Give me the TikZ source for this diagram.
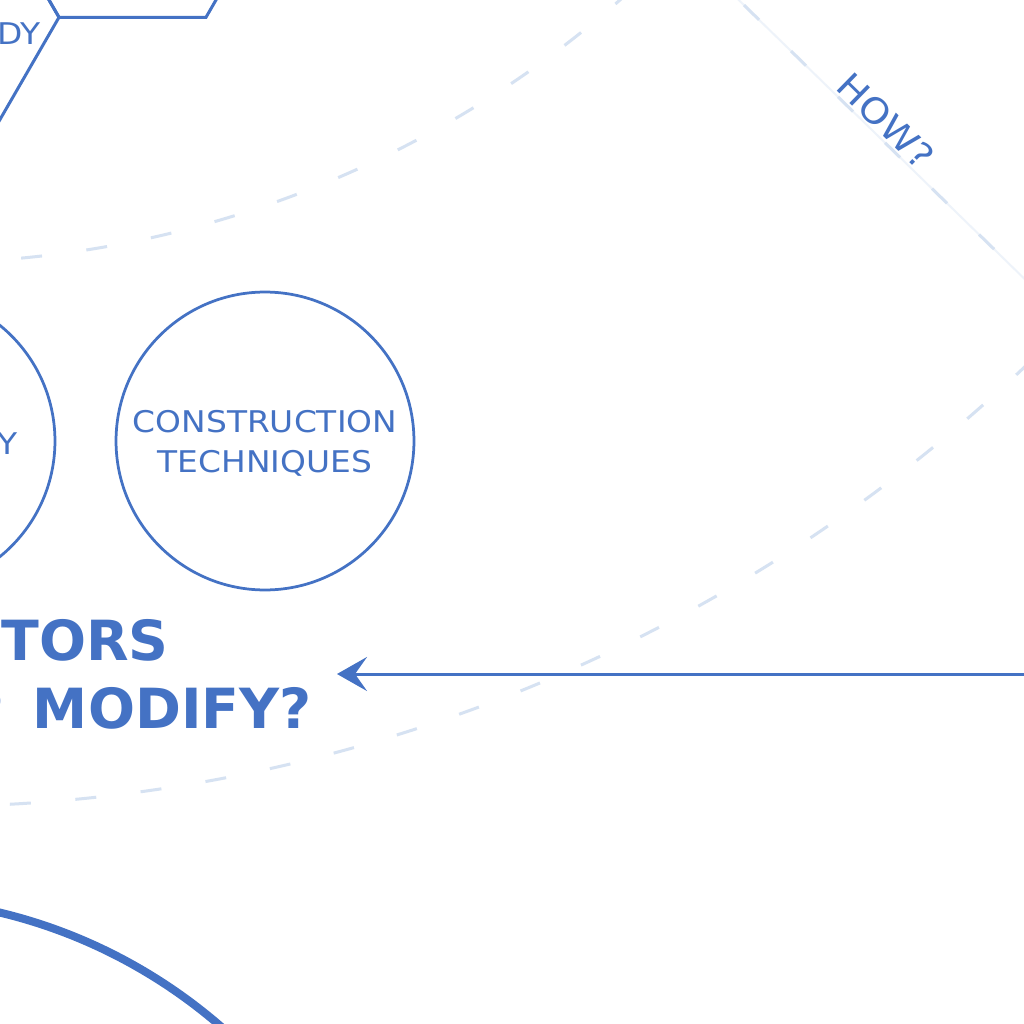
\documentclass[tikz,border=0pt]{standalone}
\usepackage{fontspec}
\setmainfont{DejaVu Sans}
\newfontfamily\handfont{DejaVu Sans}[FakeStretch=1.1]
\newfontfamily\bigfont{DejaVu Sans}
\usetikzlibrary{arrows.meta}
\definecolor{mainblue}{HTML}{4472C4}
\definecolor{ringblue}{HTML}{D6E2F2}
\definecolor{faintblue}{HTML}{EEF3FA}
\tikzset{
  ring/.style={draw=ringblue, line width=0.06cm, dash pattern=on 0.42cm off 0.894cm},
  hexedge/.style={draw=mainblue, line width=0.06cm, line join=miter},
  circnode/.style={circle, draw=mainblue, line width=0.055cm, minimum size=5.96cm, inner sep=0pt,
    text=mainblue, font=\handfont\fontsize{17}{22.8}\selectfont, align=center},
  lbl/.style={text=mainblue, inner sep=0pt, font=\handfont\fontsize{17}{22.8}\selectfont},
  howlbl/.style={text=mainblue, inner sep=0pt, font=\handfont\fontsize{20}{24}\selectfont},
  bigtxt/.style={text=mainblue, inner sep=0pt, font=\bigfont\bfseries\fontsize{31.5}{37}\selectfont},
  conn/.style={draw=mainblue, line width=0.06cm, -{Stealth[length=0.6cm,width=0.68cm,inset=0.24cm]}},
  hub/.style={draw=mainblue, line width=0.16cm},
  faint/.style={draw=faintblue, line width=0.04cm},
}
\begin{document}
\begin{tikzpicture}[x=0.02cm,y=-0.02cm]
\useasboundingbox (0,0) rectangle (1024,1024);
\clip (0,0) rectangle (1024,1024);
\fill[white] (0,0) rectangle (1024,1024);
% concentric dashed rings
\coordinate (ctr) at (-79,-798);
\draw[ring, dash phase=0.474cm] (ctr) circle[radius=21.22cm];
\draw[ring, dash phase=0.67cm] (ctr) circle[radius=32.1cm];
% radial HOW? line
\path (ctr) ++(44.3:1100) coordinate (howA0);
\path (ctr) ++(44.3:1150) coordinate (howA);
\path (ctr) ++(44.3:1605) coordinate (howB);
\draw[faint] (howA0) -- (howB);
\draw[ring] (howA) -- (howB);
\node[howlbl, rotate=-44.3] (how) at (886,121) {HOW?};
% hexagons
\draw[hexedge] (279.5,-110) -- (206,17.3) -- (59,17.3) -- (-14.5,-110) -- (59,-237.3) -- (206,-237.3) -- cycle;
\draw[hexedge] (59,17.3) -- (-14.5,144.6) -- (-161.5,144.6) -- (-235,17.3) -- (-161.5,-110) -- (-14.5,-110) -- cycle;
\node[lbl, anchor=east] (hexlbl) at (41,34) {DY};
% circles
\node[circnode] (leftc) at (-94,441) {};
\node[lbl, anchor=east] (leftlbl) at (18,444) {Y};
\node[circnode] (constr) at (265,441) {};
\node[lbl, align=center] (constrlbl) at (265,443) {CONSTRUCTION\\TECHNIQUES};
% big question text
\node[bigtxt, anchor=base west] (q1) at (1,660) {TORS};
\node[bigtxt, anchor=base east] (q2) at (312,728) {P\hspace{0.22cm} MODIFY?};
% arrow
\coordinate (arrS) at (1040,674);
\coordinate (arrE) at (337,674);
\draw[conn] (arrS) -- (arrE);
% hub arc bottom-left
\draw[hub] (-123,1423) circle[radius=10.5cm];
\end{tikzpicture}
\end{document}
